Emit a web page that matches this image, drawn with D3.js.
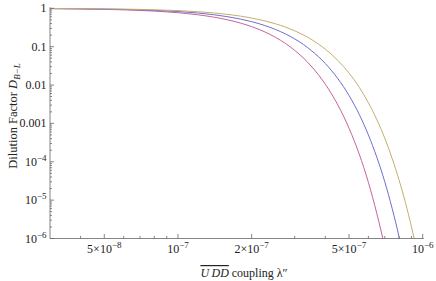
<!DOCTYPE html>
<html>
<head>
<meta charset="utf-8">
<script src="https://cdn.jsdelivr.net/npm/d3@7"></script>
<style>
  body { margin: 0; background: #fff; }
  text { font-family: "Liberation Serif", "DejaVu Serif", serif; fill: #222; }
</style>
</head>
<body>
<svg id="chart" width="436" height="281"></svg>
<script>
// coupling lambda'' grid (shared), dilution factor per curve
const coupling = [3e-8, 4e-8, 5e-8, 6e-8, 7e-8, 8e-8, 1e-7, 1.2e-7, 1.4e-7, 1.6e-7, 1.8e-7, 2e-7, 2.25e-7, 2.5e-7, 2.75e-7, 3e-7, 3.25e-7, 3.5e-7, 3.75e-7, 4e-7, 4.25e-7, 4.5e-7, 4.75e-7, 5e-7, 5.5e-7, 6e-7, 6.5e-7, 7e-7, 7.5e-7, 8e-7, 8.5e-7, 9e-7, 9.5e-7, 1e-6];

const dilutionMagenta = [0.978, 0.960, 0.938, 0.911, 0.880, 0.845, 0.767, 0.680, 0.589, 0.498, 0.412, 0.333, 0.247, 0.176, 0.121, 0.080, 0.051, 0.0313, 0.0185, 0.0105, 0.00576, 0.00303, 0.00154, 7.5e-4, 1.6e-4, 2.9e-5, 4.4e-6, 5.9e-7, 6.7e-8];
const dilutionBlue = [0.984, 0.971, 0.954, 0.934, 0.911, 0.884, 0.824, 0.755, 0.680, 0.602, 0.524, 0.449, 0.360, 0.282, 0.215, 0.159, 0.115, 0.080, 0.055, 0.0364, 0.0235, 0.0147, 0.0090, 0.00534, 0.00173, 5.0e-4, 1.29e-4, 3.0e-5, 6.1e-6, 1.13e-6, 1.85e-7];
const dilutionOlive = [0.989, 0.979, 0.967, 0.953, 0.936, 0.916, 0.870, 0.817, 0.757, 0.693, 0.626, 0.558, 0.475, 0.396, 0.324, 0.259, 0.203, 0.156, 0.117, 0.0863, 0.0622, 0.0439, 0.0303, 0.0205, 0.0088, 0.00344, 0.00124, 4.1e-4, 1.23e-4, 3.4e-5, 8.6e-6, 2.0e-6, 4.2e-7, 8.1e-8];

// ticks
const xMajorTicks = [5e-8, 1e-7, 2e-7, 5e-7, 1e-6];
const xMajorLabels = [["5×10", "−8"], ["10", "−7"], ["2×10", "−7"], ["5×10", "−7"], ["10", "−6"]];
const xMinorTicks = [4e-8, 6e-8, 7e-8, 8e-8, 9e-8, 3e-7, 4e-7, 6e-7, 7e-7, 8e-7, 9e-7];
const yMajorTicks = [1, 0.1, 0.01, 0.001, 1e-4, 1e-5, 1e-6];
const yMajorLabels = [["1", ""], ["0.1", ""], ["0.01", ""], ["0.001", ""], ["10", "−4"], ["10", "−5"], ["10", "−6"]];

const series = [
    { y: dilutionMagenta, color: '#c8609c' },
    { y: dilutionBlue, color: '#6e6ed0' },
    { y: dilutionOlive, color: '#c4ae6c' }
];

const svg = d3.select('#chart');
const plotLeft = 50, plotRight = 422.7, plotTop = 8.3, plotBottom = 238.5;

const x = d3.scaleLog().domain([3e-8, 1e-6]).range([plotLeft, plotRight]);
const y = d3.scaleLog().domain([1e-6, 1]).range([plotBottom, plotTop]);

svg.append('clipPath').attr('id', 'plotClip')
    .append('rect')
    .attr('x', plotLeft).attr('y', plotTop - 3)
    .attr('width', plotRight - plotLeft + 1).attr('height', plotBottom - plotTop + 3);

// curves
const line = d3.line()
    .x((d) => x(d[0]))
    .y((d) => y(d[1]))
    .curve(d3.curveMonotoneX);

svg.append('g')
    .attr('clip-path', 'url(#plotClip)')
    .selectAll('path')
    .data(series)
    .enter()
    .append('path')
    .attr('d', (s) => line(s.y.map((v, i) => [coupling[i], v])))
    .attr('fill', 'none')
    .attr('stroke', (s) => s.color)
    .attr('stroke-width', 1);

const axisColor = '#666';

// y minor ticks (2..9 within each decade)
const yMinorTicks = [];
for (let e = -6; e < 0; e++) {
    for (let m = 2; m <= 9; m++) yMinorTicks.push(m * Math.pow(10, e));
}

const axes = svg.append('g')
    .attr('stroke', axisColor)
    .attr('stroke-width', 0.8);

axes.append('line')
    .attr('x1', plotLeft).attr('x2', plotLeft)
    .attr('y1', plotTop - 1).attr('y2', plotBottom);
axes.append('line')
    .attr('x1', plotLeft).attr('x2', plotRight + 1)
    .attr('y1', plotBottom).attr('y2', plotBottom);

axes.selectAll('.ymaj')
    .data(yMajorTicks)
    .enter()
    .append('line')
    .attr('x1', plotLeft).attr('x2', plotLeft + 4)
    .attr('y1', (d) => y(d)).attr('y2', (d) => y(d));

axes.selectAll('.ymin')
    .data(yMinorTicks)
    .enter()
    .append('line')
    .attr('x1', plotLeft).attr('x2', plotLeft + 2)
    .attr('y1', (d) => y(d)).attr('y2', (d) => y(d));

axes.selectAll('.xmaj')
    .data(xMajorTicks)
    .enter()
    .append('line')
    .attr('x1', (d) => x(d)).attr('x2', (d) => x(d))
    .attr('y1', plotBottom).attr('y2', plotBottom - 4.5);

axes.selectAll('.xmin')
    .data(xMinorTicks)
    .enter()
    .append('line')
    .attr('x1', (d) => x(d)).attr('x2', (d) => x(d))
    .attr('y1', plotBottom).attr('y2', plotBottom - 2.5);

// tick labels with superscripts
function powerLabel(sel, parts) {
    sel.append('tspan').text(parts[0]);
    if (parts[1]) {
        sel.append('tspan')
            .attr('dy', -5)
            .style('font-size', '9px')
            .text(parts[1]);
    }
}

svg.selectAll('.ylab')
    .data(yMajorTicks)
    .enter()
    .append('text')
    .attr('x', plotLeft - 3.5)
    .attr('y', (d) => y(d) + 4)
    .attr('text-anchor', 'end')
    .style('font-size', '12px')
    .each(function (d, i) {
        powerLabel(d3.select(this), yMajorLabels[i]);
    });

svg.selectAll('.xlab')
    .data(xMajorTicks)
    .enter()
    .append('text')
    .attr('x', (d) => x(d))
    .attr('y', plotBottom + 14.5)
    .attr('text-anchor', 'middle')
    .style('font-size', '12px')
    .each(function (d, i) {
        powerLabel(d3.select(this), xMajorLabels[i]);
    });

// x axis title
const xTitle = svg.append('text')
    .attr('x', 244)
    .attr('y', 277)
    .attr('text-anchor', 'middle')
    .style('font-size', '12px');
xTitle.append('tspan')
    .style('font-style', 'italic')
    .style('text-decoration', 'overline')
    .text('U\u2009DD');
xTitle.append('tspan').text(' coupling \u03BB\u2033');

// y axis title
const yTitle = svg.append('text')
    .attr('transform', 'translate(17,116) rotate(-90)')
    .attr('text-anchor', 'middle')
    .style('font-size', '12.5px');
yTitle.append('tspan').text('Dilution Factor ');
yTitle.append('tspan').style('font-style', 'italic').text('D');
yTitle.append('tspan')
    .attr('dy', 3)
    .style('font-size', '9px')
    .style('font-style', 'italic')
    .text('B\u2212L');
</script>
</body>
</html>
